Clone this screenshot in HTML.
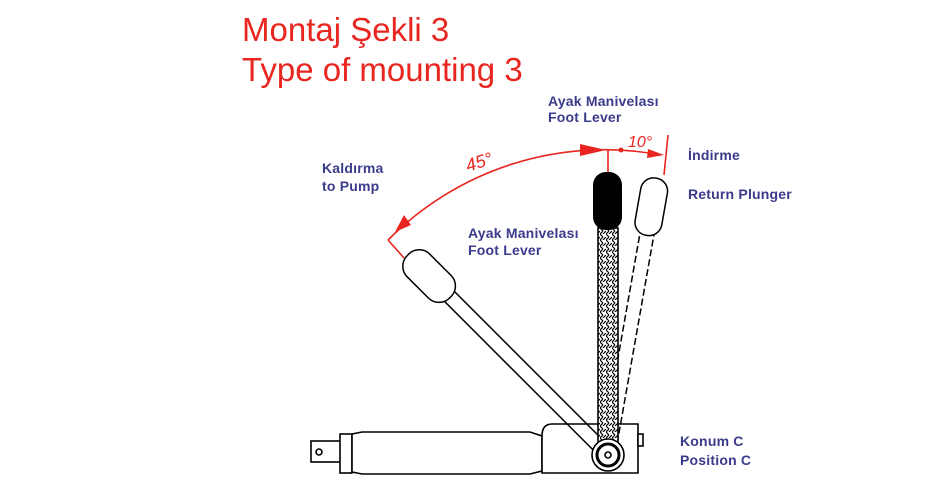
<!DOCTYPE html>
<html><head><meta charset="utf-8"><style>
body{margin:0;background:#fff;}
svg{display:block;}
.t{font-family:"Liberation Sans",sans-serif;}
.b{font-family:"Liberation Sans",sans-serif;font-weight:bold;font-size:14px;fill:#3b3b8c;letter-spacing:0.2px;}
</style></head><body>
<svg width="940" height="500" viewBox="0 0 940 500" xmlns="http://www.w3.org/2000/svg">
<defs>
<pattern id="h" width="6" height="6" patternUnits="userSpaceOnUse">
<rect width="6" height="6" fill="#fff"/>
<path d="M0 0L3 3M3 6L6 3M0 6L3 3" stroke="#000" stroke-width="1.2"/>
</pattern>
</defs>
<text class="t" x="242" y="41" font-size="33" fill="#e8251f">Montaj Şekli 3</text>
<text class="t" x="242" y="81" font-size="33" fill="#e8251f">Type of mounting 3</text>

<text class="b" x="548" y="106">Ayak Manivelası</text>
<text class="b" x="548" y="122">Foot Lever</text>
<text class="b" x="468" y="238">Ayak Manivelası</text>
<text class="b" x="468" y="255">Foot Lever</text>
<text class="b" x="322" y="173">Kaldırma</text>
<text class="b" x="322" y="191">to Pump</text>
<text class="b" x="688" y="160">İndirme</text>
<text class="b" x="688" y="199">Return Plunger</text>
<text class="b" x="680" y="446">Konum C</text>
<text class="b" x="680" y="465">Position C</text>

<g stroke="#e8251f" fill="none" stroke-width="1.6">
<path d="M388 240 A305 305 0 0 1 661 155"/>
<line x1="608" y1="150" x2="608" y2="172"/>
<line x1="404" y1="258" x2="388" y2="240"/>
<line x1="668" y1="135" x2="664" y2="175"/>
</g>
<g fill="#e8251f">
<polygon points="395,232 404,215 411,225"/>
<polygon points="606,150 580,144 580,156"/>
<polygon points="664,155 648,149 647,158"/>
<circle cx="621" cy="150" r="2.5"/>
</g>
<text class="t" x="468" y="172" font-size="18" fill="#e8251f" transform="rotate(-18 468 172)" font-style="italic">45°</text>
<text class="t" x="628" y="147" font-size="16" fill="#e8251f" font-style="italic">10°</text>

<!-- cylinder -->
<g stroke="#000" fill="#fff" stroke-width="1.6">
<rect x="311" y="441" width="30" height="21"/>
<circle cx="319" cy="452" r="3"/>
<rect x="340" y="434" width="12" height="39"/>
<path d="M352 434 L362 432 L530 432 L542 436 L542 471 L530 474 L362 474 L352 472 Z"/>
<path d="M552 424 L638 424 L638 473 L542 473 L542 436 Q542 424 552 424 Z"/>
<rect x="638" y="434" width="5" height="12"/>
</g>

<!-- left lever (45°) -->
<g transform="rotate(-45 608 455)" stroke="#000" fill="none" stroke-width="1.5">
<rect x="601" y="229" width="14" height="222"/>
<rect x="592" y="172" width="32" height="60" rx="15" fill="#fff"/>
</g>
<!-- dashed lever -->
<g transform="rotate(10 608 455)" stroke="#000" fill="none" stroke-width="1.5">
<rect x="601" y="229" width="14" height="222" stroke-dasharray="7 3"/>
<rect x="594" y="174" width="27" height="58" rx="13" fill="#fff"/>
</g>

<!-- vertical lever -->
<rect x="598" y="228" width="20" height="222" fill="url(#h)" stroke="#000" stroke-width="1.6"/>
<rect x="593" y="172" width="29" height="58" rx="13" fill="#000"/>
<g stroke="#000" fill="#fff" stroke-width="1.6">
<circle cx="608" cy="455" r="16"/>
<circle cx="608" cy="455" r="11" stroke-width="3"/>
<circle cx="608" cy="455" r="3"/>
</g>
</svg>
</body></html>
